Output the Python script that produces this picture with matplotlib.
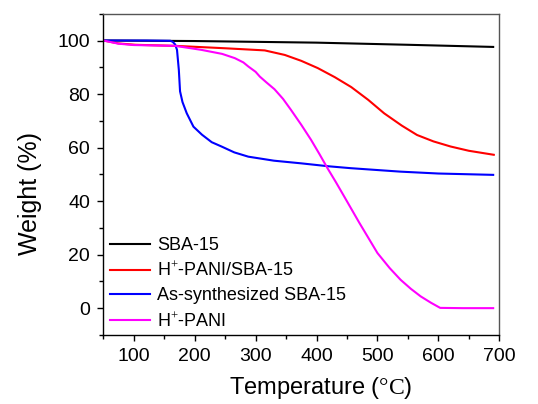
import matplotlib.pyplot as plt
from matplotlib.ticker import MultipleLocator

plt.rcParams['font.family'] = ['Liberation Sans', 'DejaVu Sans']
plt.rcParams['mathtext.fontset'] = 'custom'
plt.rcParams['mathtext.rm'] = 'Liberation Serif'

# TGA curves, temperature (C) vs weight (%)
sba_t = [50, 200, 400, 550, 690]
sba_w = [100, 99.8, 99.2, 98.4, 97.6]

hp_sba_t = [50, 75, 103, 168, 250, 315, 348, 375, 402, 430, 457, 485, 511, 540, 565, 592, 620, 650, 691]
hp_sba_w = [100, 98.9, 98.4, 98.0, 97.1, 96.3, 94.6, 92.4, 89.7, 86.3, 82.6, 77.8, 72.8, 68.2, 64.7, 62.3, 60.4, 58.8, 57.3]

as_t = [50, 120, 160, 164, 168, 171, 174, 176, 180, 187, 198, 212, 228, 244, 265, 288, 330, 375, 420, 456, 500, 538, 600, 690]
as_w = [100, 100, 99.9, 99.5, 98.5, 96.5, 89, 81, 77, 72.8, 67.8, 64.8, 62.0, 60.4, 58.2, 56.6, 55.1, 54.1, 53.0, 52.3, 51.6, 51.0, 50.3, 49.8]

pani_t = [50, 75, 100, 168, 211, 245, 266, 280, 288, 300, 307, 318, 331, 345, 358, 375, 391, 405, 418, 432, 446, 470, 500, 520, 538, 555, 571, 588, 603, 640, 690]
pani_w = [100, 98.8, 98.3, 98.0, 96.5, 95.0, 93.4, 91.8, 90.3, 88.3, 86.5, 84.3, 81.8, 78.2, 74.1, 68.5, 62.9, 57.5, 52.3, 47.0, 41.5, 32.0, 20.6, 15.0, 10.6, 7.2, 4.4, 2.0, 0.1, 0, 0]

labels = ['SBA-15', 'H$^{+}$-PANI/SBA-15', 'As-synthesized SBA-15', 'H$^{+}$-PANI']

fig, ax = plt.subplots(figsize=(5.38, 4.04), dpi=100)
fig.subplots_adjust(left=0.192, right=0.928, top=0.966, bottom=0.171)

ax.plot(sba_t, sba_w, color='black', lw=1.5, label=labels[0])
ax.plot(hp_sba_t, hp_sba_w, color='#ff0000', lw=1.5, label=labels[1])
ax.plot(as_t, as_w, color='#0000ff', lw=1.5, label=labels[2])
ax.plot(pani_t, pani_w, color='#ff00ff', lw=1.5, label=labels[3])

ax.set_xlim(50, 700)
ax.set_ylim(-10, 110)
ax.xaxis.set_major_locator(MultipleLocator(100))
ax.xaxis.set_minor_locator(MultipleLocator(50))
ax.yaxis.set_major_locator(MultipleLocator(20))
ax.yaxis.set_minor_locator(MultipleLocator(10))
ax.tick_params(which='major', length=4.5, width=1, labelsize=14, direction='out', pad=5)
ax.tick_params(which='minor', length=2.8, width=1, direction='out')
ax.tick_params(top=False, right=False)
ax.set_yticks([0, 20, 40, 60, 80, 100])

for s in ax.spines.values():
    s.set_linewidth(1)
ax.spines['right'].set_color('#555555')
ax.spines['top'].set_color('#555555')

ax.set_ylabel('Weight (%)', fontsize=18)
ax.yaxis.set_label_coords(-0.155, 0.44)
ax.set_xlabel('Temperature ($\\mathrm{°C}$)', fontsize=17)
ax.xaxis.set_label_coords(0.55, -0.125)

ax.legend(loc='lower left', bbox_to_anchor=(-0.01, -0.02), frameon=False, fontsize=13,
          handlelength=2.2, handletextpad=0.4, labelspacing=0.38, borderaxespad=0.2)

fig.savefig('out.png', dpi=100)
